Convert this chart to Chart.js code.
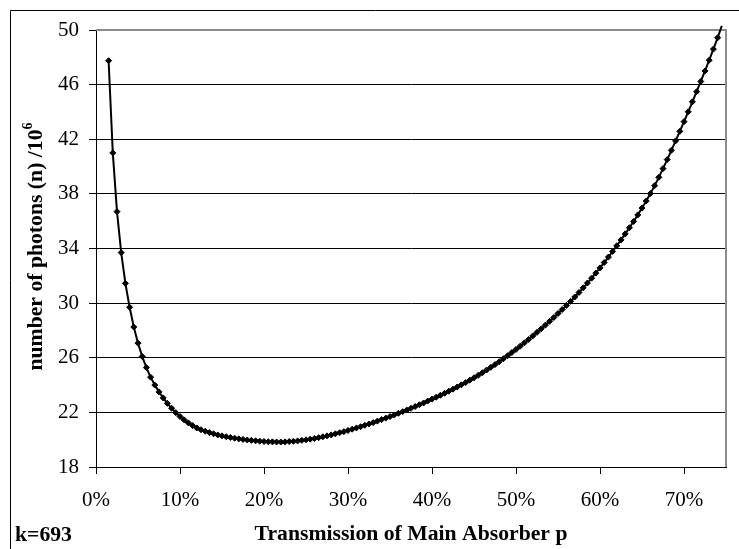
<!DOCTYPE html>
<html>
<head>
<meta charset="utf-8">
<title>Photons vs transmission</title>
<script src="https://cdn.jsdelivr.net/npm/chart.js@4.4.1/dist/chart.umd.min.js"></script>
<style>
  html, body { margin: 0; padding: 0; background: #fff; overflow: hidden; }
  #wrap { width: 739px; height: 549px; }
</style>
</head>
<body>
<div id="wrap"><canvas id="chart" width="739" height="549"></canvas></div>
<script>
// transmission of the main absorber, in percent
const transmission = [
  1.5, 2, 2.5, 3, 3.5, 4, 4.5, 5, 5.5, 6,
  6.5, 7, 7.5, 8, 8.5, 9, 9.5, 10, 10.5, 11,
  11.5, 12, 12.5, 13, 13.5, 14, 14.5, 15, 15.5, 16,
  16.5, 17, 17.5, 18, 18.5, 19, 19.5, 20, 20.5, 21,
  21.5, 22, 22.5, 23, 23.5, 24, 24.5, 25, 25.5, 26,
  26.5, 27, 27.5, 28, 28.5, 29, 29.5, 30, 30.5, 31,
  31.5, 32, 32.5, 33, 33.5, 34, 34.5, 35, 35.5, 36,
  36.5, 37, 37.5, 38, 38.5, 39, 39.5, 40, 40.5, 41,
  41.5, 42, 42.5, 43, 43.5, 44, 44.5, 45, 45.5, 46,
  46.5, 47, 47.5, 48, 48.5, 49, 49.5, 50, 50.5, 51,
  51.5, 52, 52.5, 53, 53.5, 54, 54.5, 55, 55.5, 56,
  56.5, 57, 57.5, 58, 58.5, 59, 59.5, 60, 60.5, 61,
  61.5, 62, 62.5, 63, 63.5, 64, 64.5, 65, 65.5, 66,
  66.5, 67, 67.5, 68, 68.5, 69, 69.5, 70, 70.5, 71,
  71.5, 72, 72.5, 73, 73.5, 74, 74.5
];

// number of photons needed, in units of 10^6
const photons = [
  47.75, 41.0, 36.7, 33.7, 31.45, 29.7, 28.25, 27.07, 26.1, 25.28,
  24.58, 24.0, 23.5, 23.06, 22.66, 22.3, 21.98, 21.7, 21.45, 21.23,
  21.03, 20.86, 20.73, 20.62, 20.52, 20.43, 20.35, 20.28, 20.22, 20.16,
  20.11, 20.06, 20.02, 19.98, 19.95, 19.92, 19.89, 19.87, 19.85, 19.84,
  19.83, 19.83, 19.84, 19.86, 19.88, 19.91, 19.95, 19.99, 20.04, 20.09,
  20.15, 20.21, 20.28, 20.35, 20.43, 20.51, 20.59, 20.68, 20.77, 20.86,
  20.95, 21.05, 21.15, 21.25, 21.36, 21.47, 21.58, 21.69, 21.81, 21.93,
  22.05, 22.17, 22.30, 22.43, 22.56, 22.69, 22.83, 22.97, 23.11, 23.25,
  23.40, 23.55, 23.70, 23.86, 24.02, 24.18, 24.36, 24.53, 24.71, 24.90,
  25.10, 25.30, 25.50, 25.71, 25.93, 26.15, 26.38, 26.61, 26.85, 27.09,
  27.34, 27.60, 27.86, 28.12, 28.39, 28.67, 28.95, 29.24, 29.53, 29.83,
  30.13, 30.45, 30.78, 31.12, 31.47, 31.83, 32.20, 32.58, 32.97, 33.37,
  33.78, 34.20, 34.63, 35.07, 35.52, 35.98, 36.46, 36.96, 37.48, 38.02,
  38.60, 39.21, 39.85, 40.51, 41.19, 41.88, 42.58, 43.29, 44.01, 44.74,
  45.48, 46.23, 47.00, 47.79, 48.60, 49.43, 50.3
];

const xTicks = [0, 10, 20, 30, 40, 50, 60, 70];
const yTicks = [18, 22, 26, 30, 34, 38, 42, 46, 50];

const FONT = '"Liberation Serif", "Times New Roman", serif';
const TICK_SIZE = 21;
const TITLE_SIZE = 21.7;

// white background, outer chart border, grey plot-area frame, extra texts
const framePlugin = {
  id: 'frame',
  beforeDraw(chart) {
    const ctx = chart.ctx;
    ctx.save();
    ctx.fillStyle = '#fff';
    ctx.fillRect(0, 0, chart.width, chart.height);
    ctx.strokeStyle = '#000';
    ctx.lineWidth = 1;
    ctx.beginPath();
    ctx.moveTo(10.5, chart.height + 5);
    ctx.lineTo(10.5, 10.5);
    ctx.lineTo(chart.width + 5, 10.5);
    ctx.stroke();
    ctx.restore();
  },
  beforeDatasetsDraw(chart) {
    const { ctx, chartArea: a } = chart;
    ctx.save();
    ctx.strokeStyle = '#8c8c8c';
    ctx.lineWidth = 2;
    ctx.beginPath();
    ctx.moveTo(a.left, a.top);
    ctx.lineTo(a.right, a.top);
    ctx.lineTo(a.right, a.bottom);
    ctx.stroke();
    ctx.restore();
  },
  afterDraw(chart) {
    const { ctx, chartArea: a } = chart;
    ctx.save();
    ctx.fillStyle = '#000';
    // y axis title with superscript exponent
    const mainFont = 'bold ' + TITLE_SIZE + 'px ' + FONT;
    const supFont = 'bold 14px ' + FONT;
    const main = 'number of photons (n) /10';
    const sup = '6';
    ctx.font = mainFont;
    const wm = ctx.measureText(main).width;
    ctx.font = supFont;
    const ws = ctx.measureText(sup).width;
    ctx.translate(42, (a.top + a.bottom) / 2 - 2);
    ctx.rotate(-Math.PI / 2);
    ctx.textBaseline = 'alphabetic';
    ctx.textAlign = 'left';
    const start = -(wm + ws) / 2;
    ctx.font = mainFont;
    ctx.fillText(main, start, 0);
    ctx.font = supFont;
    ctx.fillText(sup, start + wm, -10);
    ctx.setTransform(1, 0, 0, 1, 0, 0);
    // constant used for the curve
    ctx.font = mainFont;
    ctx.fillText('k=693', 15, 541);
    ctx.restore();
  }
};

new Chart(document.getElementById('chart'), {
  type: 'line',
  data: {
    datasets: [{
      data: transmission.map((p, i) => ({ x: p, y: photons[i] })),
      borderColor: '#000',
      borderWidth: 2,
      backgroundColor: '#000',
      pointStyle: 'rectRot',
      pointRadius: ctx => ctx.dataIndex === photons.length - 1 ? 0 : 3,
      pointBorderWidth: 1,
      pointBackgroundColor: '#000',
      pointBorderColor: '#000',
      tension: 0,
      clip: { left: 0, top: 8, right: 0, bottom: 0 }
    }]
  },
  options: {
    responsive: false,
    animation: false,
    devicePixelRatio: 1,
    layout: { padding: { top: 30, right: 13, left: 0, bottom: 0 } },
    plugins: { legend: { display: false }, tooltip: { enabled: false } },
    scales: {
      x: {
        type: 'linear',
        min: 0,
        max: 75,
        afterBuildTicks: s => { s.ticks = xTicks.map(v => ({ value: v })); },
        afterFit: s => { s.height = 82; },
        grid: { drawOnChartArea: false, drawTicks: true, tickLength: 7, color: '#000' },
        border: { color: '#000', width: 1 },
        ticks: {
          color: '#000',
          padding: 14,
          maxRotation: 0,
          font: { family: FONT, size: TICK_SIZE },
          callback: v => v + '%'
        },
        title: {
          display: true,
          text: 'Transmission of Main Absorber p',
          color: '#000',
          font: { family: FONT, size: TITLE_SIZE, weight: 'bold' },
          padding: { top: 0, bottom: 2 }
        }
      },
      y: {
        min: 18,
        max: 50,
        afterBuildTicks: s => { s.ticks = yTicks.map(v => ({ value: v })); },
        afterFit: s => { s.width = 96; },
        grid: { color: '#000', lineWidth: 1, tickLength: 7 },
        border: { color: '#000', width: 1 },
        ticks: {
          color: '#000',
          padding: 10,
          font: { family: FONT, size: TICK_SIZE }
        }
      }
    }
  },
  plugins: [framePlugin]
});
</script>
</body>
</html>
